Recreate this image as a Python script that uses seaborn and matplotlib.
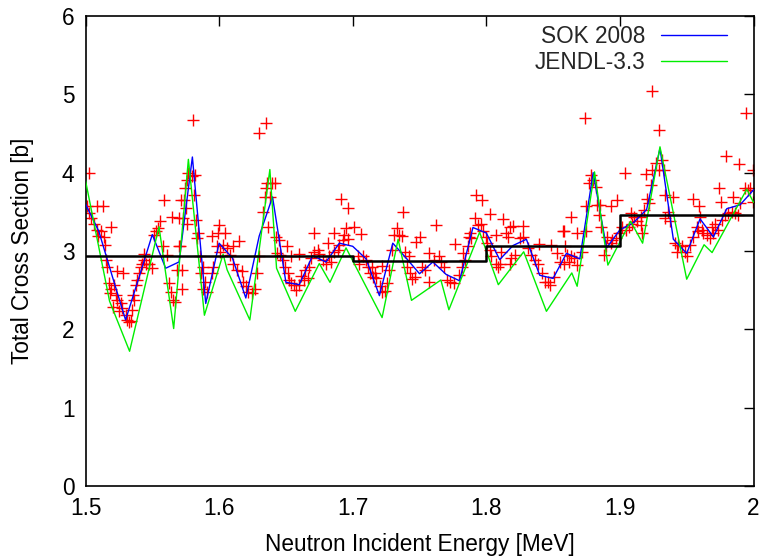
import numpy as np
import pandas as pd
import matplotlib
matplotlib.use("Agg")
import matplotlib.pyplot as plt
import seaborn as sns

# ---------------- data ----------------
sok_e = [1.50, 1.51, 1.52, 1.53, 1.54, 1.55, 1.56, 1.57, 1.58, 1.59,
         1.60, 1.61, 1.62, 1.63, 1.64, 1.65, 1.66, 1.67, 1.68, 1.69,
         1.70, 1.71, 1.72, 1.73, 1.74, 1.75, 1.76, 1.77, 1.78, 1.79,
         1.80, 1.81, 1.82, 1.83, 1.84, 1.85, 1.86, 1.87, 1.88, 1.89,
         1.90, 1.91, 1.92, 1.93, 1.94, 1.95, 1.96, 1.97, 1.98, 1.99, 2.00]
sok_xs = [3.60, 3.25, 2.68, 2.12, 2.66, 3.21, 2.78, 2.86, 4.20, 2.33,
          3.10, 2.91, 2.40, 3.19, 3.69, 2.60, 2.57, 2.94, 2.86, 3.10,
          3.06, 2.90, 2.43, 3.10, 2.91, 2.71, 2.86, 2.70, 2.62, 3.30,
          3.23, 2.89, 3.07, 3.15, 2.69, 2.65, 2.97, 2.90, 4.00, 3.04,
          3.27, 3.36, 3.53, 4.31, 3.15, 2.97, 3.41, 3.18, 3.54, 3.59, 3.78]

jendl_e = [1.500, 1.518, 1.533, 1.555, 1.566, 1.577, 1.589, 1.603, 1.606, 1.623,
           1.638, 1.643, 1.657, 1.675, 1.683, 1.695, 1.722, 1.734, 1.744, 1.766,
           1.772, 1.795, 1.809, 1.828, 1.845, 1.864, 1.868, 1.881, 1.891,
           1.908, 1.917, 1.930, 1.950, 1.963, 1.969, 1.995, 2.000]
jendl_xs = [3.90, 2.36, 1.72, 3.31, 2.01, 4.17, 2.18, 2.96, 2.76, 2.12,
            4.04, 2.78, 2.23, 2.84, 2.60, 3.04, 2.15, 3.15, 2.37, 2.63,
            2.25, 3.24, 2.57, 2.99, 2.23, 2.72, 2.55, 4.01, 2.82,
            3.38, 3.10, 4.33, 2.64, 3.08, 2.98, 3.79, 3.62]

avg_edges = [1.5, 1.7, 1.8, 1.9, 2.0]
avg_xs = [2.93, 2.87, 3.06, 3.46]

exp_e = [
    1.5026, 1.5009, 1.5026, 1.5088, 1.5133, 1.5043, 1.5064, 1.5088, 1.5114, 1.5094,
    1.5138, 1.5189, 1.5144, 1.5151, 1.5163, 1.5233, 1.5283, 1.5176, 1.5189, 1.5213,
    1.5183, 1.5226, 1.5238, 1.5208, 1.5263, 1.5276, 1.5251, 1.5301, 1.5313, 1.5338,
    1.5326, 1.5350, 1.5363, 1.5358, 1.5376, 1.5388, 1.5400, 1.5413, 1.5425, 1.5438,
    1.5451, 1.5475, 1.5500, 1.5438, 1.5513, 1.5525, 1.5543, 1.5558, 1.5588, 1.5650,
    1.5583, 1.5612, 1.5700, 1.5687, 1.5625, 1.5642, 1.5657, 1.5668, 1.5700, 1.5712,
    1.5802, 1.5707, 1.5720, 1.5720, 1.5737, 1.5732, 1.5752, 1.5762, 1.5745, 1.5757,
    1.5770, 1.5795, 1.5820, 1.5812, 1.5827, 1.5844, 1.5837, 1.5857, 1.5882, 1.5862,
    1.5894, 1.5877, 1.5912, 1.5945, 1.5957, 1.5949, 1.6001, 1.5994, 1.6044, 1.5982,
    1.6007, 1.6027, 1.6057, 1.6102, 1.6151, 1.6082, 1.6106, 1.6136, 1.6169, 1.6181,
    1.6201, 1.6219, 1.6244, 1.6269, 1.6281, 1.6301, 1.6326, 1.6344, 1.6351, 1.6361,
    1.6394, 1.6418, 1.6381, 1.6368, 1.6301, 1.6351, 1.6426, 1.6431,
    1.6451, 1.6506, 1.6456, 1.6476, 1.6496, 1.6513, 1.6521, 1.6538, 1.6563, 1.6576,
    1.6596, 1.6613, 1.6638, 1.6663, 1.6645, 1.6675, 1.6688, 1.6713, 1.6738, 1.6750,
    1.6775, 1.6800, 1.6825, 1.6838, 1.6862, 1.6888, 1.6900, 1.6925, 1.6937, 1.6950,
    1.6962, 1.6912, 1.6962, 1.7012, 1.7062, 1.6862, 1.6713, 1.6813, 1.6600, 1.6538,
    1.7037, 1.7050, 1.7079, 1.7100, 1.7112, 1.7129, 1.7150,
    1.7144, 1.7169, 1.7174, 1.7207, 1.7219, 1.7240, 1.7257, 1.7269, 1.7219, 1.7294,
    1.7307, 1.7332, 1.7344, 1.7369, 1.7374, 1.7394, 1.7419, 1.7406, 1.7431, 1.7444,
    1.7469, 1.7474, 1.7506, 1.7519, 1.7544, 1.7569, 1.7573, 1.7606, 1.7624, 1.7644,
    1.7663, 1.7681, 1.7706, 1.7731, 1.7756, 1.7768, 1.7798, 1.7818, 1.7823, 1.7843,
    1.7868,
    1.7925, 1.7968, 1.8025, 1.7913, 1.7938, 1.7958, 1.7975, 1.8000, 1.7876, 1.7888,
    1.7863, 1.8008, 1.8025, 1.8038, 1.8075, 1.8088, 1.8100, 1.8112, 1.8075, 1.8125,
    1.8150, 1.8175, 1.8162, 1.8200, 1.8275, 1.8187, 1.8213, 1.8175, 1.8250, 1.8275,
    1.8312, 1.8337, 1.8362, 1.8387, 1.8417, 1.8437, 1.8462, 1.8475, 1.8487, 1.8507,
    1.8532, 1.8549, 1.8574, 1.8587, 1.8392,
    1.8737, 1.9243, 1.9293, 1.9036, 1.9193, 1.8781, 1.8801, 1.8769, 1.8819, 1.9268,
    1.9243, 1.9293, 1.9231, 1.9205, 1.9218, 1.9180, 1.9156, 1.9130, 1.9106, 1.9081,
    1.9093, 1.9068, 1.9043, 1.9018, 1.8993, 1.8969, 1.8943, 1.8931, 1.8906, 1.8894,
    1.8881, 1.8856, 1.8844, 1.8831, 1.8851, 1.8931, 1.8980, 1.9168, 1.9156, 1.8744,
    1.8744, 1.8632, 1.8681, 1.8582, 1.8719, 1.8606, 1.8632, 1.8657, 1.8619, 1.8582,
    1.8681,
    1.9944, 1.9794, 1.9894, 1.9994, 1.9744, 1.9754, 1.9844, 1.9545, 1.9594, 1.9338,
    1.9395, 1.9313, 1.9330, 1.9362, 1.9338, 1.9375, 1.9413, 1.9437, 1.9462, 1.9425,
    1.9487, 1.9500, 1.9525, 1.9550, 1.9574, 1.9603, 1.9587, 1.9615, 1.9625, 1.9650,
    1.9675, 1.9687, 1.9712, 1.9700, 1.9737, 1.9762, 1.9787, 1.9811, 1.9837, 1.9862,
    1.9886, 1.9899, 1.9936, 1.9961, 1.9974, 1.9995,
]
exp_xs = [
    4.00, 3.58, 3.48, 3.58, 3.58, 3.42, 3.35, 3.27, 3.25, 3.19,
    3.18, 3.31, 3.08, 2.89, 2.80, 2.75, 2.72, 2.59, 2.51, 2.57,
    2.46, 2.44, 2.38, 2.29, 2.33, 2.27, 2.23, 2.18, 2.12, 2.11,
    2.09, 2.25, 2.38, 2.44, 2.57, 2.63, 2.72, 2.80, 2.84, 2.89,
    2.84, 2.84, 2.78, 2.96, 3.21, 3.25, 3.29, 3.38, 3.65, 3.44,
    3.06, 2.95, 3.06, 2.76, 2.59, 2.48, 2.38, 2.35, 3.42, 3.65,
    4.67, 3.06, 2.76, 2.52, 3.65, 3.42, 3.55, 3.35, 3.80, 3.91,
    3.99, 3.96, 3.97, 3.72, 3.40, 3.23, 3.16, 2.93, 2.80, 2.72,
    2.61, 2.52, 2.48, 2.72, 2.80, 3.19, 3.33, 3.23, 3.23, 3.06,
    2.99, 3.08, 3.04, 3.06, 3.13, 2.95, 2.84, 2.76, 2.74, 2.61,
    2.55, 2.48, 2.46, 2.52, 2.72, 2.93, 3.50, 3.69, 3.80, 3.87,
    3.87, 3.87, 3.69, 3.31, 4.51, 4.64, 3.18, 2.97,
    3.14, 3.07, 2.95, 2.89, 2.80, 2.72, 2.63, 2.59, 2.57, 2.50,
    2.57, 2.68, 2.63, 2.65, 2.76, 2.80, 2.91, 2.99, 3.01, 2.96,
    2.89, 2.84, 2.93, 2.86, 2.99, 3.01, 3.08, 3.14, 3.21, 3.29,
    3.15, 3.66, 3.55, 3.31, 3.22, 3.23, 3.23, 3.10, 2.96, 2.93,
    2.93, 2.84, 2.93, 2.89, 2.80, 2.72, 2.67,
    2.80, 2.72, 2.65, 2.55, 2.48, 2.49, 2.59, 2.76, 2.81, 3.01,
    3.21, 3.29, 3.21, 3.19, 3.50, 2.99, 2.93, 2.80, 2.72, 2.64,
    2.67, 3.11, 3.18, 2.80, 2.76, 2.61, 2.98, 2.89, 3.33, 2.93,
    2.86, 2.80, 2.63, 2.60, 2.59, 3.09, 2.69, 2.80, 2.97, 2.89,
    3.18,
    3.72, 3.65, 3.47, 3.42, 3.33, 3.35, 3.25, 3.18, 3.23, 3.16,
    3.06, 3.10, 3.01, 2.93, 2.84, 2.80, 2.84, 2.99, 3.21, 3.41,
    3.23, 3.31, 3.18, 3.32, 3.32, 2.91, 2.95, 2.84, 3.16, 3.18,
    3.04, 2.95, 2.89, 2.84, 2.72, 2.61, 2.60, 2.57, 3.08, 2.67,
    2.97, 2.86, 3.25, 3.06, 3.09,
    4.70, 5.04, 4.55, 4.00, 3.98, 3.97, 3.91, 3.87, 3.82, 4.12,
    4.04, 4.04, 3.84, 3.67, 3.61, 3.52, 3.44, 3.38, 3.44, 3.48,
    3.35, 3.31, 3.27, 3.31, 3.23, 3.16, 3.14, 3.10, 3.18, 3.06,
    2.95, 3.31, 3.46, 3.59, 3.59, 3.58, 3.65, 3.23, 3.33, 3.57,
    3.25, 3.44, 3.23, 3.25, 2.99, 2.95, 2.93, 2.91, 2.86, 2.84,
    2.82,
    4.76, 4.21, 4.11, 4.04, 3.81, 3.63, 3.69, 3.67, 3.57, 3.72,
    3.69, 4.16, 4.04, 3.50, 3.42, 3.38, 3.10, 3.08, 3.06, 2.99,
    2.99, 2.93, 3.08, 3.18, 3.31, 3.44, 3.25, 3.27, 3.23, 3.21,
    3.16, 3.31, 3.35, 3.23, 3.27, 3.40, 3.46, 3.48, 3.50, 3.48,
    3.46, 3.61, 3.80, 3.78, 3.80, 3.63,
]

x_ticks = [1.5, 1.6, 1.7, 1.8, 1.9, 2.0]
x_tick_labels = ["1.5", "1.6", "1.7", "1.8", "1.9", "2"]
y_ticks = [0, 1, 2, 3, 4, 5, 6]

# ---------------- plot ----------------
sns.set_theme(style="white")
plt.rcParams["font.family"] = ["Liberation Sans", "DejaVu Sans"]
FS = 16.3

fig = plt.figure(figsize=(7.6, 5.56), dpi=100)
ax = fig.add_axes([85.5 / 760, 70 / 556, 668 / 760, 470 / 556])

exp_df = pd.DataFrame({"E": exp_e, "XS": exp_xs})
sok_df = pd.DataFrame({"E": sok_e, "XS": sok_xs})
jendl_df = pd.DataFrame({"E": jendl_e, "XS": jendl_xs})

sns.scatterplot(data=exp_df, x="E", y="XS", marker="+", color="#ff0000",
                s=70, linewidth=1.0, ax=ax, zorder=2, legend=False)
sns.lineplot(data=sok_df, x="E", y="XS", color="#0000ff", linewidth=1.0,
             ax=ax, zorder=3, label="SOK 2008", sort=False)
sns.lineplot(data=jendl_df, x="E", y="XS", color="#00ee00", linewidth=1.0,
             ax=ax, zorder=3, label="JENDL-3.3", sort=False)

step_x = avg_edges
step_y = avg_xs + [avg_xs[-1]]
ax.step(step_x, step_y, where="post", color="black", linewidth=1.8, zorder=4)

ax.set_xlim(1.5, 2.0)
ax.set_ylim(0, 6)
ax.set_xticks(x_ticks)
ax.set_xticklabels(x_tick_labels)
ax.set_yticks(y_ticks)
ax.tick_params(direction="in", length=7, width=1.0, top=True, right=True,
               labelsize=FS, pad=8, colors="black")
for sp in ax.spines.values():
    sp.set_linewidth(1.2)
    sp.set_color("black")
    sp.set_visible(True)

ax.set_xlabel("Neutron Incident Energy [MeV]", fontsize=FS, labelpad=9, color="black")
ax.set_ylabel("Total Cross Section [b]", fontsize=FS, labelpad=20, color="black")

leg = ax.legend(loc="upper right", frameon=False, markerfirst=False,
                fontsize=FS, handlelength=2.9, handletextpad=0.7,
                labelspacing=0.15, borderaxespad=0.0, borderpad=0.0,
                bbox_to_anchor=((727 - 85.5) / 668, (486 - 25) / 470))
for t in leg.get_texts():
    t.set_ha("right")

fig.savefig("out.png", dpi=100)
